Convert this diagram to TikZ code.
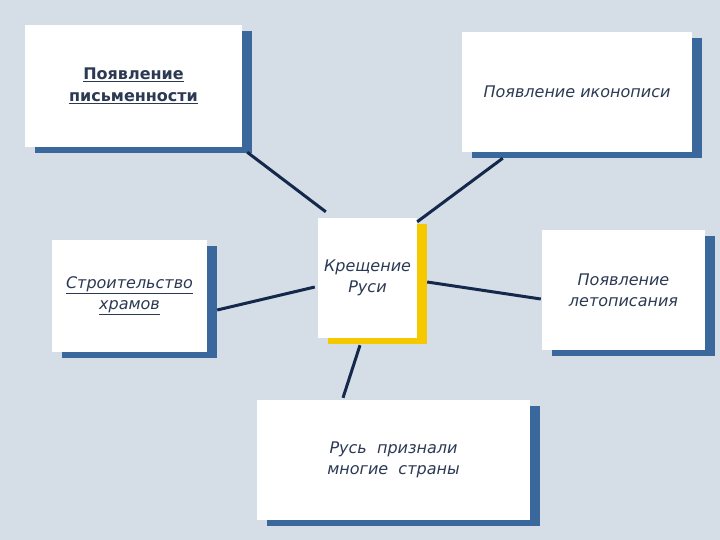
\documentclass[tikz,border=0pt]{standalone}
\usepackage{fontspec}
\setmainfont{DejaVu Sans}
\usetikzlibrary{shadows}
\definecolor{bgblue}{HTML}{D5DDE7}
\definecolor{shblue}{HTML}{3A689C}
\definecolor{shyellow}{HTML}{F6C800}
\definecolor{linkblue}{HTML}{14284B}
\definecolor{txtblue}{HTML}{2B3953}
\begin{document}
\begin{tikzpicture}[x=1pt, y=-1pt,
  box/.style={rectangle, fill=white, inner sep=0pt, align=center, text=txtblue,
    font=\fontsize{16}{21}\selectfont\itshape,
    general shadow={fill=shblue, shadow xshift=10pt, shadow yshift=-6pt}},
  mainbox/.style={box, general shadow={fill=shyellow, shadow xshift=10pt, shadow yshift=-6pt}},
  link/.style={draw=linkblue, line width=3pt}]

  \fill[bgblue] (0,0) rectangle (720,540);
  \useasboundingbox (0,0) rectangle (720,540);

  \node[box, minimum width=217pt, minimum height=122pt, font=\fontsize{16}{22}\selectfont\bfseries] (pismo) at (133.5,86) {\underline{Появление}\\\underline{письменности}};
  \node[box, minimum width=230pt, minimum height=120pt] (ikon) at (577,92) {Появление иконописи};
  \node[mainbox, minimum width=99pt, minimum height=120pt] (kresch) at (367.5,278) {Крещение\\Руси};
  \node[box, minimum width=155pt, minimum height=112pt] (hram) at (129.5,296) {\underline{Строительство}\\\underline{храмов}};
  \node[box, minimum width=163pt, minimum height=120pt] (letop) at (623.5,290) {Появление\\летописания};
  \node[box, minimum width=273pt, minimum height=120pt] (priz) at (393.5,460) {Русь\ \ признали\\многие\ \ страны};

  \draw[link] ([shift={(5,5)}]pismo.south east) -- ([shift={(8,-6)}]kresch.north west);
  \draw[link] ([shift={(41,6)}]ikon.south west) -- ([shift={(0,4)}]kresch.north east);
  \draw[link] ([shift={(10,14)}]hram.east) -- ([shift={(-3,9)}]kresch.west);
  \draw[link] ([shift={(10,4)}]kresch.east) -- ([shift={(-1,9)}]letop.west);
  \draw[link] ([shift={(-7.5,7)}]kresch.south) -- ([shift={(-50.5,-2)}]priz.north);
\end{tikzpicture}
\end{document}
